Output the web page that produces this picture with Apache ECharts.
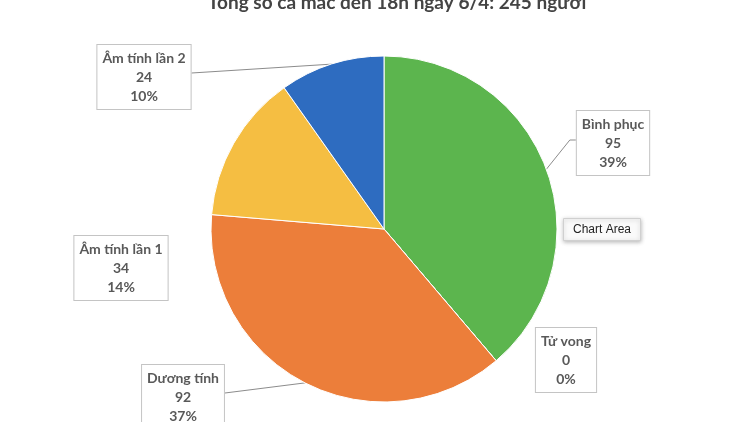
<!DOCTYPE html>
<html>
<head>
<meta charset="utf-8">
<script src="https://cdn.jsdelivr.net/npm/echarts@6/dist/echarts.min.js"></script>
<style>
html, body { margin: 0; padding: 0; background: #fff; }
#main { width: 750px; height: 422px; }
</style>
</head>
<body>
<div id="main"></div>
<script>
// du lieu ca mac
var categories = ['Bình phục', 'Tử vong', 'Dương tính', 'Âm tính lần 1', 'Âm tính lần 2'];
var values = [95, 0, 92, 34, 24];
var colors = ['#5cb54e', '#a5a5a5', '#ec7e3a', '#f5be42', '#2e6cc0'];
var showLine = [true, false, true, false, true];
var chartTitle = 'Tổng số ca mắc đến 18h ngày 6/4: 245 người';

// vi tri cac hop nhan (tam hop)
var labelPos = [[613, 143], [566, 360], [183, 397], [121, 268], [144, 77]];

var pieData = [];
for (var i = 0; i < categories.length; i++) {
    pieData.push({
        name: categories[i],
        value: values[i],
        itemStyle: { color: colors[i] },
        labelLine: { show: showLine[i] }
    });
}

var chart = echarts.init(document.getElementById('main'));
var option = {
    backgroundColor: '#fff',
    animation: false,
    title: {
        text: chartTitle,
        left: 392,
        top: -12,
        textAlign: 'center',
        textStyle: { fontFamily: 'Lato', fontWeight: 'bold', fontSize: 19, color: '#444' }
    },
    series: [{
        type: 'pie',
        center: [384, 229],
        radius: 173,
        startAngle: 90,
        clockwise: true,
        stillShowZeroSum: true,
        percentPrecision: 0,
        itemStyle: { borderColor: '#fff', borderWidth: 1 },
        label: {
            show: true,
            formatter: '{b}\n{c}\n{d}%',
            fontFamily: 'Lato',
            fontWeight: 'bold',
            fontSize: 14,
            lineHeight: 19,
            color: '#595959',
            align: 'center',
            backgroundColor: '#fff',
            borderColor: '#c4c4c4',
            borderWidth: 1,
            padding: [4, 5, 3, 5]
        },
        labelLine: {
            lineStyle: { color: '#8c8c8c', width: 1 }
        },
        labelLayout: function (params) {
            var p = labelPos[params.dataIndex];
            var res = { x: p[0], y: p[1], align: 'center', verticalAlign: 'middle' };
            var pts = params.labelLinePoints;
            if (pts && showLine[params.dataIndex]) {
                var w = params.labelRect.width;
                var a = pts[0];
                if (p[0] > a[0]) {
                    // nhan ben phai: doan ngang ngan vao hop
                    var ex = p[0] - w / 2;
                    res.labelLinePoints = [a, [ex - 6, p[1] - 3], [ex, p[1] - 3]];
                } else {
                    var ex2 = p[0] + w / 2;
                    res.labelLinePoints = [a, [ex2, p[1] - 4], [ex2, p[1] - 4]];
                }
            }
            return res;
        },
        data: pieData
    }],
    graphic: [{
        type: 'group',
        left: 563,
        top: 218,
        children: [{
            type: 'rect',
            shape: { x: 0, y: 0, width: 77, height: 22 },
            style: { fill: '#fafafa', stroke: '#d0d0d0', lineWidth: 1, shadowBlur: 4, shadowColor: 'rgba(0,0,0,0.25)', shadowOffsetY: 1 }
        }, {
            type: 'text',
            style: { x: 38.5, y: 11, text: 'Chart Area', align: 'center', verticalAlign: 'middle', fontFamily: 'Liberation Sans', fontSize: 12, fill: '#222' }
        }]
    }]
};
chart.setOption(option);
</script>
</body>
</html>
